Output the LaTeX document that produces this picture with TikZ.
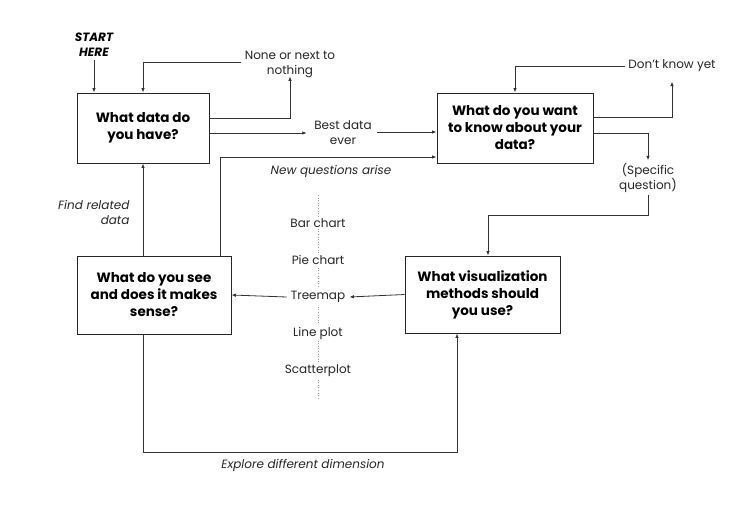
\documentclass[tikz,border=0pt]{standalone}
\usepackage{fontspec}
\setmainfont{Poppins}
\usetikzlibrary{arrows.meta,calc}
\begin{document}
\begin{tikzpicture}[x=1pt,y=-1pt,
  box/.style={draw=black!85,line width=0.9pt,align=center,font=\fontsize{13.5}{17}\selectfont\bfseries,inner sep=0pt},
  lbl/.style={align=center,font=\fontsize{12}{15}\selectfont,text=black!85},
  ilbl/.style={align=center,font=\fontsize{12}{15}\selectfont\itshape,text=black!85},
  arr/.style={draw=black!80,line width=0.8pt,-{Latex[length=4.5pt,width=3.5pt]}},
  ln/.style={draw=black!80,line width=0.8pt}]
\useasboundingbox (0,0) rectangle (750,506);
\fill[white] (0,0) rectangle (750,506);
% boxes
\node[box,minimum width=132,minimum height=70] (b1) at (143,128) {What data do\\you have?};
\node[box,minimum width=156,minimum height=70] (b2) at (515,128) {What do you want\\to know about your\\data?};
\node[box,minimum width=154,minimum height=78] (b3) at (154,295) {What do you see\\and does it makes\\sense?};
\node[box,minimum width=155,minimum height=77] (b4) at (482.5,294.5) {What visualization\\methods should\\you use?};
% labels
\node[align=center,font=\fontsize{12}{15}\selectfont\bfseries\itshape] (start) at (94,45) {START\\HERE};
\node[lbl] (none) at (290,64.5) {None or next to\\nothing};
\node[lbl] (best) at (343,133) {Best data\\ever};
\node[lbl] (dk) at (672,66) {Don't know yet};
\node[lbl] (spec) at (648,177.5) {(Specific\\question)};
\node[ilbl] (newq) at (331,171) {New questions arise};
\node[ilbl,align=right,anchor=east] (find) at (133,212.5) {Find related\\data};
\node[ilbl] (expl) at (303,465) {Explore different dimension};
% dotted list
\draw[dotted,black!40,line width=0.6pt] (318,195) -- (318,398);
\foreach \n/\t/\y in {bar/Bar chart/223, pie/Pie chart/260, tree/Treemap/297, line/Line plot/333, scat/Scatterplot/371}
  \node[lbl,fill=white,inner sep=2pt] (\n) at (318,\y) {\t};
% connectors
\draw[arr] (start.south) -- (start.south |- b1.north);
\draw[arr] ([yshift=2.5]none.west) -| (b1.north);
\coordinate (o1) at (b1.east |- 0,118);
\draw[arr] (o1) -| ([yshift=5]none.south);
\coordinate (o2) at (b1.east |- 0,133);
\draw[arr] (o2) -- ([xshift=-4]best.west |- o2);
\coordinate (i2) at (b2.west |- 0,132);
\draw[arr] ([xshift=2]best.east |- i2) -- (i2);
\coordinate (t3) at (220,0);
\coordinate (i3) at (b2.west |- 0,157);
\draw[arr] (t3 |- b3.north) |- (i3);
\draw[arr] (dk.west) -| (b2.north);
\coordinate (o3) at (b2.east |- 0,117);
\draw[arr] (o3) -| ([yshift=-6]dk.south);
\coordinate (o4) at (b2.east |- 0,133);
\draw[arr] (o4) -| ([yshift=-1]spec.north);
\coordinate (s1) at ([yshift=1]spec.south);
\draw[arr] (s1) -- ++(0,21) -| (b4.north -| 488,0);
\draw[arr] (b4.west) -- ([xshift=2]tree.east);
\draw[arr] ([xshift=-2]tree.west) -- (b3.east);
\draw[arr] (b3.south -| b1.south) -- ++(0,118) -| (b4.south -| 457,0);
\draw[arr] (b3.north -| b1.south) -- (b1.south);
\end{tikzpicture}
\end{document}
